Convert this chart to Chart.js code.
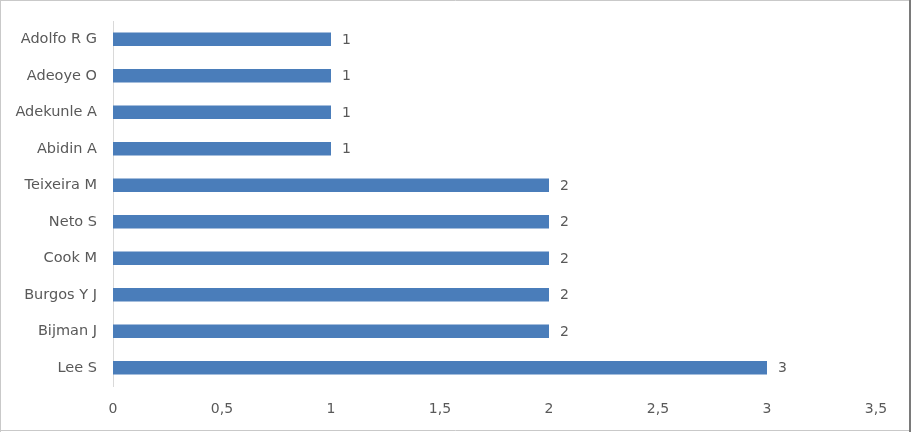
<!DOCTYPE html>
<html>
<head>
<meta charset="utf-8">
<script src="https://cdn.jsdelivr.net/npm/chart.js@4/dist/chart.umd.min.js"></script>
<style>
  html, body { margin: 0; padding: 0; background: #ffffff; }
  #wrap { position: relative; width: 911px; height: 432px; }
  canvas { display: block; }
</style>
</head>
<body>
<div id="wrap"><canvas id="c" width="911" height="432"></canvas></div>
<script>
const categories = ["Adolfo R G", "Adeoye O", "Adekunle A", "Abidin A", "Teixeira M", "Neto S", "Cook M", "Burgos Y J", "Bijman J", "Lee S"];
const values = [1, 1, 1, 1, 2, 2, 2, 2, 2, 3];
const xTicks = [0, 0.5, 1, 1.5, 2, 2.5, 3, 3.5];

const FONT = "'DejaVu Sans', sans-serif";
const TEXT = "#595959";

const valueLabels = {
  id: "valueLabels",
  afterDatasetsDraw(chart) {
    const ctx = chart.ctx;
    const meta = chart.getDatasetMeta(0);
    ctx.save();
    ctx.font = "14px " + FONT;
    ctx.fillStyle = TEXT;
    ctx.textAlign = "left";
    ctx.textBaseline = "middle";
    meta.data.forEach((bar, i) => {
      ctx.fillText(String(values[i]), bar.x + 11, bar.y + 1);
    });
    ctx.restore();
  }
};

const frame = {
  id: "frame",
  afterDraw(chart) {
    const ctx = chart.ctx;
    ctx.save();
    ctx.strokeStyle = "#c9c9c9";
    ctx.lineWidth = 1;
    ctx.beginPath();
    ctx.moveTo(0, 0.5); ctx.lineTo(911, 0.5);
    ctx.moveTo(0.5, 0); ctx.lineTo(0.5, 432);
    ctx.moveTo(0, 430.5); ctx.lineTo(911, 430.5);
    ctx.stroke();
    ctx.strokeStyle = "#7a7a7a";
    ctx.lineWidth = 2;
    ctx.beginPath();
    ctx.moveTo(910, 0); ctx.lineTo(910, 432);
    ctx.stroke();
    ctx.restore();
  }
};

new Chart(document.getElementById("c"), {
  type: "bar",
  data: {
    labels: categories,
    datasets: [{
      data: values,
      backgroundColor: "#4a7dba",
      borderWidth: 0,
      categoryPercentage: 1,
      barPercentage: 0.37
    }]
  },
  options: {
    indexAxis: "y",
    responsive: false,
    animation: false,
    layout: { padding: { top: 21, right: 35, left: 0, bottom: 0 } },
    plugins: { legend: { display: false }, tooltip: { enabled: false } },
    scales: {
      x: {
        min: 0,
        max: 3.5,
        afterBuildTicks(scale) { scale.ticks = xTicks.map(v => ({ value: v })); },
        afterFit(scale) { scale.height = 46; },
        grid: { display: false, drawTicks: false },
        border: { display: false },
        ticks: {
          padding: 15,
          color: TEXT,
          font: { family: FONT, size: 14 },
          callback: (v) => String(v).replace(".", ",")
        }
      },
      y: {
        afterFit(scale) { scale.width = 113; scale.paddingTop = 0; scale.paddingBottom = 0; },
        grid: { display: false, drawTicks: false },
        border: { display: true, color: "#d9d9d9", width: 1 },
        ticks: {
          padding: 16,
          color: TEXT,
          font: { family: FONT, size: 14.5 }
        }
      }
    }
  },
  plugins: [valueLabels, frame]
});
</script>
</body>
</html>
